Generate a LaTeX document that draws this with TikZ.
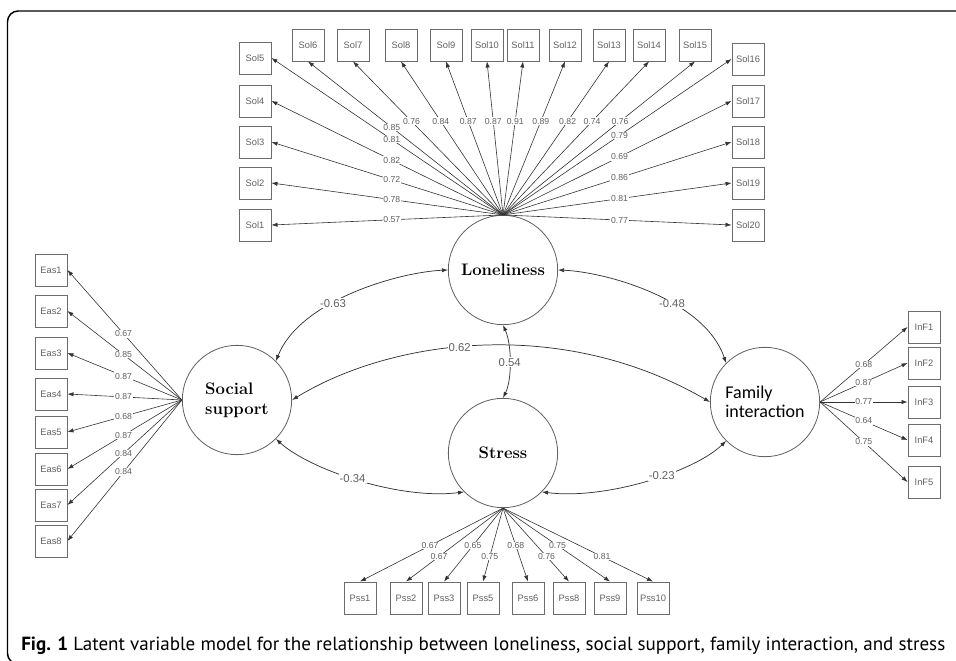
\documentclass[tikz,border=0pt]{standalone}
\usepackage{fontspec}
\usepackage{tikz}
\usetikzlibrary{arrows.meta}
\usetikzlibrary{calc}
\newfontfamily\itemfont{Liberation Sans}
\newfontfamily\famfont{Carlito}
\newfontfamily\capfont{PT Sans}
\tikzset{myitem/.style={draw=gray!85!black, line width=0.7pt, minimum width=24pt, minimum height=24pt, inner sep=0pt, text=gray!75!black, font=\itemfont\fontsize{7}{8}\selectfont}}
\tikzset{mylatent/.style={draw=gray!75!black, line width=0.6pt, circle, minimum size=82pt, inner sep=0pt, font=\bfseries\fontsize{12.5}{15}\selectfont}}
\tikzset{myload/.style={-{Latex[length=4.5pt,width=3.2pt]}, draw=gray!40!black, line width=0.45pt}}
\tikzset{mycorr/.style={{Latex[length=4.5pt,width=3.2pt]}-{Latex[length=4.5pt,width=3.2pt]}, draw=gray!40!black, line width=0.55pt}}
\tikzset{mycoef/.style={fill=white, inner sep=0.6pt, text=gray!75!black, font=\itemfont\fontsize{6.5}{7}\selectfont}}
\tikzset{mycoefBig/.style={fill=white, inner sep=0.8pt, text=gray!75!black, font=\itemfont\fontsize{8.5}{9}\selectfont}}

\begin{document}
\begin{tikzpicture}[x=0.75pt, y=-0.75pt]
\useasboundingbox (0,0) rectangle (956,660);
\draw[line width=1.1pt, rounded corners=8pt] (1000,11) -- (7.5,11) -- (7.5,664) -- (1000,664);

% latent variables
\node[mylatent] (lon) at (503, 270) {Loneliness};
\node[mylatent, align=left] (soc) at (237, 400) {Social\\support};
\node[mylatent] (str) at (503, 453) {Stress};
\node[mylatent, align=left, font=\famfont\fontsize{13.5}{14.5}\selectfont] (fam) at (765, 402) {Family\\interaction};

% loneliness items
\node[myitem] (sol1) at (255, 225) {Sol1};
\node[myitem] (sol2) at (255, 183) {Sol2};
\node[myitem] (sol3) at (255, 142) {Sol3};
\node[myitem] (sol4) at (255, 101) {Sol4};
\node[myitem] (sol5) at (255, 58) {Sol5};
\node[myitem] (sol6) at (308, 45) {Sol6};
\node[myitem] (sol7) at (353, 45) {Sol7};
\node[myitem] (sol8) at (401, 45) {Sol8};
\node[myitem] (sol9) at (446, 45) {Sol9};
\node[myitem] (sol10) at (487, 45) {Sol10};
\node[myitem] (sol11) at (523, 45) {Sol11};
\node[myitem] (sol12) at (565, 45) {Sol12};
\node[myitem] (sol13) at (609, 45) {Sol13};
\node[myitem] (sol14) at (649, 45) {Sol14};
\node[myitem] (sol15) at (695, 45) {Sol15};
\node[myitem] (sol16) at (748, 59) {Sol16};
\node[myitem] (sol17) at (748, 101) {Sol17};
\node[myitem] (sol18) at (748, 142) {Sol18};
\node[myitem] (sol19) at (748, 183) {Sol19};
\node[myitem] (sol20) at (748, 225) {Sol20};

% social support items
\node[myitem] (eas1) at (51, 270) {Eas1};
\node[myitem] (eas2) at (51, 311) {Eas2};
\node[myitem] (eas3) at (51, 353) {Eas3};
\node[myitem] (eas4) at (51, 394) {Eas4};
\node[myitem] (eas5) at (51, 432) {Eas5};
\node[myitem] (eas6) at (51, 469) {Eas6};
\node[myitem] (eas7) at (51, 505) {Eas7};
\node[myitem] (eas8) at (51, 541) {Eas8};

% family interaction items
\node[myitem] (inf1) at (924, 327) {InF1};
\node[myitem] (inf2) at (924, 363) {InF2};
\node[myitem] (inf3) at (924, 402) {InF3};
\node[myitem] (inf4) at (924, 440) {InF4};
\node[myitem] (inf5) at (924, 482) {InF5};

% stress items
\node[myitem] (pss1) at (360, 598) {Pss1};
\node[myitem] (pss2) at (406, 598) {Pss2};
\node[myitem] (pss3) at (444, 598) {Pss3};
\node[myitem] (pss5) at (483, 598) {Pss5};
\node[myitem] (pss6) at (528, 598) {Pss6};
\node[myitem] (pss8) at (569, 598) {Pss8};
\node[myitem] (pss9) at (610, 598) {Pss9};
\node[myitem] (pss10) at (653, 598) {Pss10};

% loadings
\draw[myload] (lon.north) to node[mycoef, pos=0.48] {0.57} (sol1.east);
\draw[myload] (lon.north) to node[mycoef, pos=0.48] {0.78} (sol2.east);
\draw[myload] (lon.north) to node[mycoef, pos=0.48] {0.72} (sol3.east);
\draw[myload] (lon.north) to node[mycoef, pos=0.48] {0.82} (sol4.east);
\draw[myload] (lon.north) to node[mycoef, pos=0.48] {0.81} (sol5.east);
\draw[myload] (lon.north) to node[mycoef, pos=0.57] {0.85} (sol6.south);
\draw[myload] (lon.north) to node[mycoef, pos=0.61] {0.76} (sol7.south);
\draw[myload] (lon.north) to node[mycoef, pos=0.61] {0.84} (sol8.south);
\draw[myload] (lon.north) to node[mycoef, pos=0.61] {0.87} (sol9.south);
\draw[myload] (lon.north) to node[mycoef, pos=0.61] {0.87} (sol10.south);
\draw[myload] (lon.north) to node[mycoef, pos=0.61] {0.91} (sol11.south);
\draw[myload] (lon.north) to node[mycoef, pos=0.61] {0.89} (sol12.south);
\draw[myload] (lon.north) to node[mycoef, pos=0.61] {0.82} (sol13.south);
\draw[myload] (lon.north) to node[mycoef, pos=0.61] {0.74} (sol14.south);
\draw[myload] (lon.north) to node[mycoef, pos=0.61] {0.76} (sol15.south);
\draw[myload] (lon.north) to node[mycoef, pos=0.51] {0.79} (sol16.west);
\draw[myload] (lon.north) to node[mycoef, pos=0.51] {0.69} (sol17.west);
\draw[myload] (lon.north) to node[mycoef, pos=0.51] {0.86} (sol18.west);
\draw[myload] (lon.north) to node[mycoef, pos=0.51] {0.81} (sol19.west);
\draw[myload] (lon.north) to node[mycoef, pos=0.51] {0.77} (sol20.west);

\draw[myload] (soc.west) to node[mycoef, pos=0.51] {0.67} (eas1.east);
\draw[myload] (soc.west) to node[mycoef, pos=0.51] {0.85} (eas2.east);
\draw[myload] (soc.west) to node[mycoef, pos=0.51] {0.87} (eas3.east);
\draw[myload] (soc.west) to node[mycoef, pos=0.51] {0.87} (eas4.east);
\draw[myload] (soc.west) to node[mycoef, pos=0.51] {0.68} (eas5.east);
\draw[myload] (soc.west) to node[mycoef, pos=0.51] {0.87} (eas6.east);
\draw[myload] (soc.west) to node[mycoef, pos=0.51] {0.84} (eas7.east);
\draw[myload] (soc.west) to node[mycoef, pos=0.51] {0.84} (eas8.east);

\draw[myload] (fam.east) to node[mycoef, pos=0.5] {0.68} (inf1.west);
\draw[myload] (fam.east) to node[mycoef, pos=0.5] {0.87} (inf2.west);
\draw[myload] (fam.east) to node[mycoef, pos=0.5] {0.77} (inf3.west);
\draw[myload] (fam.east) to node[mycoef, pos=0.5] {0.64} (inf4.west);
\draw[myload] (fam.east) to node[mycoef, pos=0.5] {0.75} (inf5.west);

\draw[myload] (str.south) to node[mycoef, pos=0.51] {0.67} (pss1.north);
\draw[myload] (str.south) to node[mycoef, pos=0.66] {0.67} (pss2.north);
\draw[myload] (str.south) to node[mycoef, pos=0.51] {0.65} (pss3.north);
\draw[myload] (str.south) to node[mycoef, pos=0.66] {0.75} (pss5.north);
\draw[myload] (str.south) to node[mycoef, pos=0.51] {0.68} (pss6.north);
\draw[myload] (str.south) to node[mycoef, pos=0.66] {0.76} (pss8.north);
\draw[myload] (str.south) to node[mycoef, pos=0.51] {0.75} (pss9.north);
\draw[myload] (str.south) to node[mycoef, pos=0.66] {0.81} (pss10.north);

% correlations
\draw[mycorr] (lon.west) .. controls (400,272) and (300,300) .. node[mycoefBig, pos=0.6] {-0.63} (soc.45);
\draw[mycorr] (lon.east) .. controls (607,272) and (705,300) .. node[mycoefBig, pos=0.6] {-0.48} (fam.135);
\draw[mycorr] (soc.east) .. controls (390,340) and (560,315) .. node[mycoefBig, pos=0.45] {0.62} (fam.west);
\draw[mycorr] (lon.south) .. controls (512,345) and (512,380) .. node[mycoefBig, pos=0.5] {0.54} (str.north);
\draw[mycorr] (soc.-45) .. controls (310,470) and (400,500) .. node[mycoefBig, pos=0.47] {-0.34} (str.-135);
\draw[mycorr] (fam.-135) .. controls (694,472) and (605,500) .. node[mycoefBig, pos=0.42] {-0.23} (str.-45);

% caption
\node[anchor=west, inner sep=0pt, font=\capfont\fontsize{14.3}{16}\selectfont] (cap) at (21, 646) {\textbf{Fig. 1} Latent variable model for the relationship between loneliness, social support, family interaction, and stress};

\end{tikzpicture}
\end{document}
